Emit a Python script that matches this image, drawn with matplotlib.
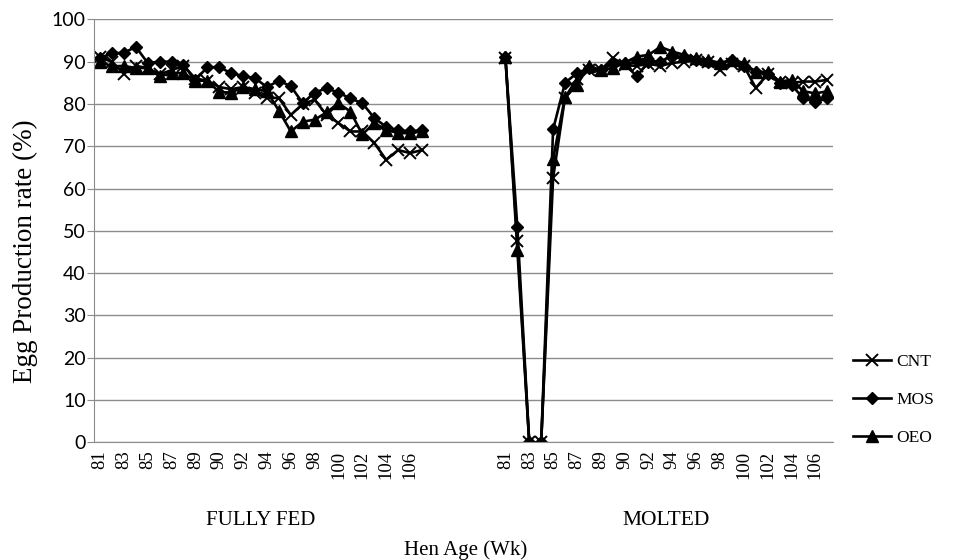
import numpy as np
import matplotlib
matplotlib.use("Agg")
import matplotlib.pyplot as plt

# week labels for each feeding group (one label repeats, as on the original axis)
ff_weeks = [81, 82, 83, 84, 85, 86, 87, 88, 89, 89, 90, 91, 92, 93, 94, 95, 96, 97,
            98, 99, 100, 101, 102, 103, 104, 105, 106, 107]
molt_weeks = list(ff_weeks)
groups = ["FULLY FED", "MOLTED"]

# egg production rate (%), fully fed
cnt_ff = [91.0, 90.0, 87.2, 89.0, 88.5, 87.0, 88.0, 89.0, 86.0, 85.5, 84.0, 83.5, 84.0, 82.5,
          81.5, 81.4, 77.4, 80.0, 81.0, 77.4, 75.5, 73.5, 73.5, 70.8, 66.8, 69.1, 68.4, 69.1]
mos_ff = [90.9, 92.0, 92.1, 93.5, 89.7, 90.0, 90.0, 89.2, 85.7, 88.7, 88.7, 87.3, 86.6, 86.1,
          84.0, 85.5, 84.2, 80.2, 82.7, 83.7, 82.7, 81.3, 80.2, 76.7, 74.6, 73.8, 73.5, 73.8]
oeo_ff = [90.0, 88.9, 89.0, 88.5, 88.5, 86.5, 87.3, 87.3, 85.5, 85.5, 82.8, 82.7, 84.0, 83.5,
          83.0, 78.4, 73.5, 75.8, 76.3, 78.0, 80.2, 78.2, 72.8, 75.5, 73.9, 73.1, 73.1, 73.5]

# egg production rate (%), molted
cnt_mt = [90.8, 47.5, 0.0, 0.0, 62.5, 81.5, 86.0, 88.0, 88.0, 90.9, 89.2, 89.0, 89.5, 89.0,
          89.7, 90.0, 90.3, 90.0, 88.0, 89.5, 89.0, 83.8, 87.0, 85.3, 85.0, 85.3, 85.3, 85.7]
mos_mt = [91.0, 51.0, 0.0, 0.0, 74.0, 85.0, 87.3, 88.5, 88.0, 89.5, 89.7, 86.5, 90.0, 90.0,
          91.5, 91.0, 90.5, 90.0, 89.5, 90.5, 89.0, 87.6, 87.0, 85.0, 84.5, 81.3, 80.5, 81.3]
oeo_mt = [91.2, 45.5, 0.0, 0.0, 67.0, 81.7, 84.5, 89.0, 88.0, 88.5, 89.7, 91.2, 91.6, 93.5,
          92.4, 91.6, 90.9, 90.4, 89.7, 90.4, 89.7, 87.6, 87.6, 85.3, 85.7, 83.0, 82.5, 83.0]

GAP = 6  # empty categories between the two groups

serif = ["Liberation Serif", "DejaVu Serif"]

n_ff, n_mt = len(ff_weeks), len(molt_weeks)
x_ff = np.arange(n_ff)
x_mt = np.arange(n_mt) + n_ff + GAP
ncat = n_ff + GAP + n_mt


def join(a, b):
    return np.concatenate([a, [np.nan] * GAP, b])


xs = np.arange(ncat)
series = [("CNT", join(cnt_ff, cnt_mt), "x", 8.5, 1.4),
          ("MOS", join(mos_ff, mos_mt), "D", 6.5, 1.0),
          ("OEO", join(oeo_ff, oeo_mt), "^", 8, 1.0)]

fig = plt.figure(figsize=(9.6, 5.6), dpi=100)
ax = fig.add_axes([0.098, 0.21, 0.770, 0.7554])

for lbl, vals, mk, ms, mew in series:
    ax.plot(xs, vals, "-", color="black", lw=1.9, marker=mk, ms=ms,
            mec="black", mfc="black", mew=mew, label=lbl)

ax.set_xlim(-0.5, ncat - 0.5)
ax.set_ylim(0, 100)
ax.set_yticks(range(0, 101, 10))
ax.yaxis.grid(True, color="#8c8c8c", lw=1.0)
ax.set_axisbelow(True)
for sp in ("top", "right"):
    ax.spines[sp].set_visible(False)
for sp in ("left", "bottom"):
    ax.spines[sp].set_color("#8c8c8c")
ax.tick_params(axis="y", length=5, color="#8c8c8c", labelsize=14, pad=1)
for t in ax.get_yticklabels():
    t.set_fontfamily("Lato")

ticks = list(x_ff[::2]) + list(x_mt[::2])
labels = [str(w) for w in ff_weeks[::2]] + [str(w) for w in molt_weeks[::2]]
ax.set_xticks(ticks)
ax.set_xticklabels(labels, rotation=90, family=serif, fontsize=13.5)
ax.tick_params(axis="x", length=0, pad=6)

ax.text(x_ff.mean(), -0.185, groups[0], transform=ax.get_xaxis_transform(),
        ha="center", va="center", family=serif, fontsize=15)
ax.text(x_mt.mean(), -0.185, groups[1], transform=ax.get_xaxis_transform(),
        ha="center", va="center", family=serif, fontsize=15.5)
fig.text(0.485, 0.0, "Hen Age (Wk)", ha="center", va="bottom", family=serif, fontsize=15)
fig.text(0.026, 0.552, "Egg Production rate (%)", rotation=90, ha="center", va="center",
         family=serif, fontsize=19.5)

leg = ax.legend(loc="center left", bbox_to_anchor=(1.005, 0.1), frameon=False,
                prop={"family": serif, "size": 12.5}, handlelength=2.2, labelspacing=1.25,
                handletextpad=0.3)

fig.savefig("out.png", dpi=100)
